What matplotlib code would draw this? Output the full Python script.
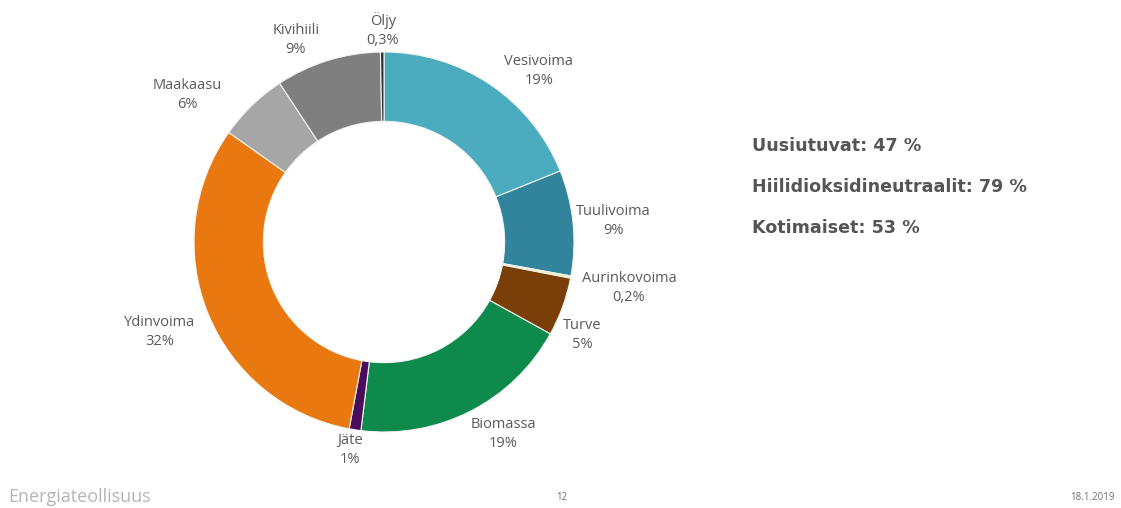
import matplotlib
matplotlib.use("Agg")
import matplotlib.pyplot as plt

# ---- data ----
sources = ["Vesivoima", "Tuulivoima", "Aurinkovoima", "Turve", "Biomassa",
           "Jäte", "Ydinvoima", "Maakaasu", "Kivihiili", "Öljy"]
shares = [19, 9, 0.2, 5, 19, 1, 32, 6, 9, 0.3]
share_labels = ["19%", "9%", "0,2%", "5%", "19%", "1%", "32%", "6%", "9%", "0,3%"]
colors = ["#4BACC0", "#31849B", "#F2EDB0", "#7A3E08", "#0E8A4C",
          "#4A0D5E", "#E8780F", "#A6A6A6", "#7F7F7F", "#303030"]
summary = ["Uusiutuvat: 47 %", "Hiilidioksidineutraalit: 79 %", "Kotimaiset: 53 %"]

# ---- layout (pixel positions of label centres) ----
label_pos = [(539, 71), (613, 221), (629, 288), (582, 335), (503, 434),
             (350, 450), (160, 332), (187, 95), (296, 40), (383, 30)]

W, H = 1121, 508
fig = plt.figure(figsize=(W / 100, H / 100), dpi=100)
plt.rcParams['font.family'] = ['Open Sans', 'DejaVu Sans']

cx, cy, R = 384, 242, 190
ax = fig.add_axes([(cx - R) / W, (H - cy - R) / H, 2 * R / W, 2 * R / H])
ax.pie(shares, colors=colors, startangle=90, counterclock=False, radius=1,
       wedgeprops=dict(width=0.365, edgecolor="#F4F4F0", linewidth=0.8))
ax.set_xlim(-1, 1)
ax.set_ylim(-1, 1)
ax.set_aspect("equal")
ax.axis("off")

def fx(px):
    return px / W

def fy(py):
    return 1 - py / H

for name, lab, (px, py) in zip(sources, share_labels, label_pos):
    fig.text(fx(px), fy(py), f"{name}\n{lab}", ha="center", va="center",
             fontsize=10.5, color="#5A5A5A", linespacing=1.35)

for i, s in enumerate(summary):
    fig.text(fx(752), fy(146 + i * 41), s, ha="left", va="center",
             fontsize=12.6, fontweight="bold", color="#555555",
             family=["DejaVu Sans"])

fig.text(fx(8), fy(497), "Energiateollisuus", ha="left", va="center",
         fontsize=13, color="#B5B5B5")
fig.text(fx(562), fy(497), "12", ha="center", va="center",
         fontsize=7, color="#707070")
fig.text(fx(1115), fy(497), "18.1.2019", ha="right", va="center",
         fontsize=7, color="#707070")

fig.savefig("out.png", dpi=100)
